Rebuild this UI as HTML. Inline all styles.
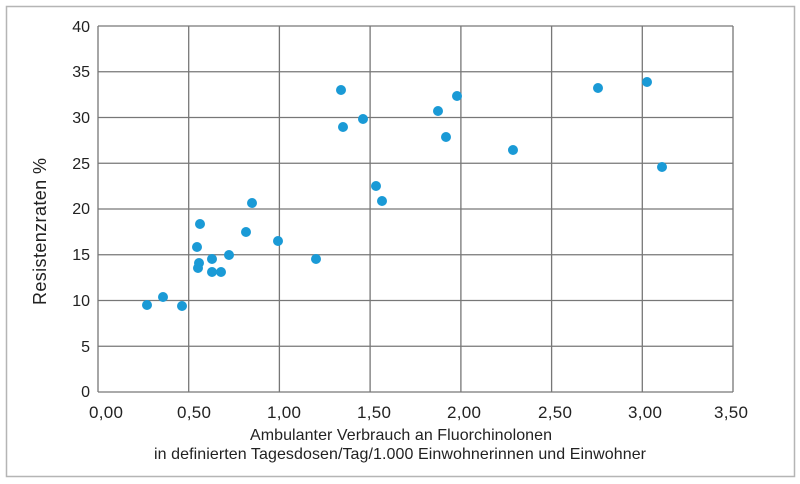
<!DOCTYPE html>
<html><head><meta charset="utf-8"><style>
body{margin:0;background:#fff;}
svg{display:block;font-family:"Liberation Sans",Arial,sans-serif;}
</style></head><body>
<svg width="800" height="484" viewBox="0 0 800 484">
<rect x="6.5" y="6.5" width="788" height="470" fill="#fff" stroke="#b5b5b5" stroke-width="1.5"/>
<g stroke="#777" stroke-width="1.3" fill="none">
<line x1="98" y1="26" x2="733" y2="26"/><line x1="98" y1="71.75" x2="733" y2="71.75"/>
<line x1="98" y1="117.5" x2="733" y2="117.5"/><line x1="98" y1="163.25" x2="733" y2="163.25"/>
<line x1="98" y1="209" x2="733" y2="209"/><line x1="98" y1="254.75" x2="733" y2="254.75"/>
<line x1="98" y1="300.5" x2="733" y2="300.5"/><line x1="98" y1="346.25" x2="733" y2="346.25"/>
<line x1="98" y1="392" x2="733" y2="392"/>
<line x1="98" y1="26" x2="98" y2="392"/><line x1="188.7" y1="26" x2="188.7" y2="392"/>
<line x1="279.4" y1="26" x2="279.4" y2="392"/><line x1="370.1" y1="26" x2="370.1" y2="392"/>
<line x1="460.9" y1="26" x2="460.9" y2="392"/><line x1="551.6" y1="26" x2="551.6" y2="392"/>
<line x1="642.3" y1="26" x2="642.3" y2="392"/><line x1="733" y1="26" x2="733" y2="392"/>
</g>
<g font-size="16" fill="#222" text-anchor="end">
<text x="90" y="32">40</text><text x="90" y="77">35</text><text x="90" y="123">30</text>
<text x="90" y="169">25</text><text x="90" y="214">20</text><text x="90" y="260">15</text>
<text x="90" y="306">10</text><text x="90" y="352">5</text><text x="90" y="397">0</text>
</g>
<g font-size="17" fill="#222" text-anchor="middle">
<text x="106" y="418" textLength="34">0,00</text><text x="194" y="418" textLength="34">0,50</text><text x="284" y="418" textLength="34">1,00</text>
<text x="374" y="418" textLength="34">1,50</text><text x="464" y="418" textLength="34">2,00</text><text x="555" y="418" textLength="34">2,50</text>
<text x="645" y="418" textLength="34">3,00</text><text x="731" y="418" textLength="34">3,50</text>
</g>
<g font-size="16" fill="#222">
<text x="250" y="440" textLength="302">Ambulanter Verbrauch an Fluorchinolonen</text>
<text x="154" y="459" textLength="492">in definierten Tagesdosen/Tag/1.000 Einwohnerinnen und Einwohner</text>
<text transform="translate(46,305) rotate(-90)" font-size="18" textLength="147">Resistenzraten %</text>
</g>
<g fill="#1a9ad6">
<circle cx="147" cy="305" r="5"/><circle cx="163" cy="297" r="5"/><circle cx="182" cy="306" r="5"/>
<circle cx="197" cy="247" r="5"/><circle cx="198" cy="268" r="5"/><circle cx="199" cy="263" r="5"/>
<circle cx="200" cy="224" r="5"/><circle cx="212" cy="259" r="5"/><circle cx="212" cy="272" r="5"/>
<circle cx="221" cy="272" r="5"/><circle cx="229" cy="255" r="5"/><circle cx="246" cy="232" r="5"/>
<circle cx="252" cy="203" r="5"/><circle cx="278" cy="241" r="5"/><circle cx="316" cy="259" r="5"/>
<circle cx="341" cy="90" r="5"/><circle cx="343" cy="127" r="5"/><circle cx="363" cy="119" r="5"/>
<circle cx="376" cy="186" r="5"/><circle cx="382" cy="201" r="5"/><circle cx="438" cy="111" r="5"/>
<circle cx="446" cy="137" r="5"/><circle cx="457" cy="96" r="5"/><circle cx="513" cy="150" r="5"/>
<circle cx="598" cy="88" r="5"/><circle cx="647" cy="82" r="5"/><circle cx="662" cy="167" r="5"/>
</g>
</svg>
</body></html>
